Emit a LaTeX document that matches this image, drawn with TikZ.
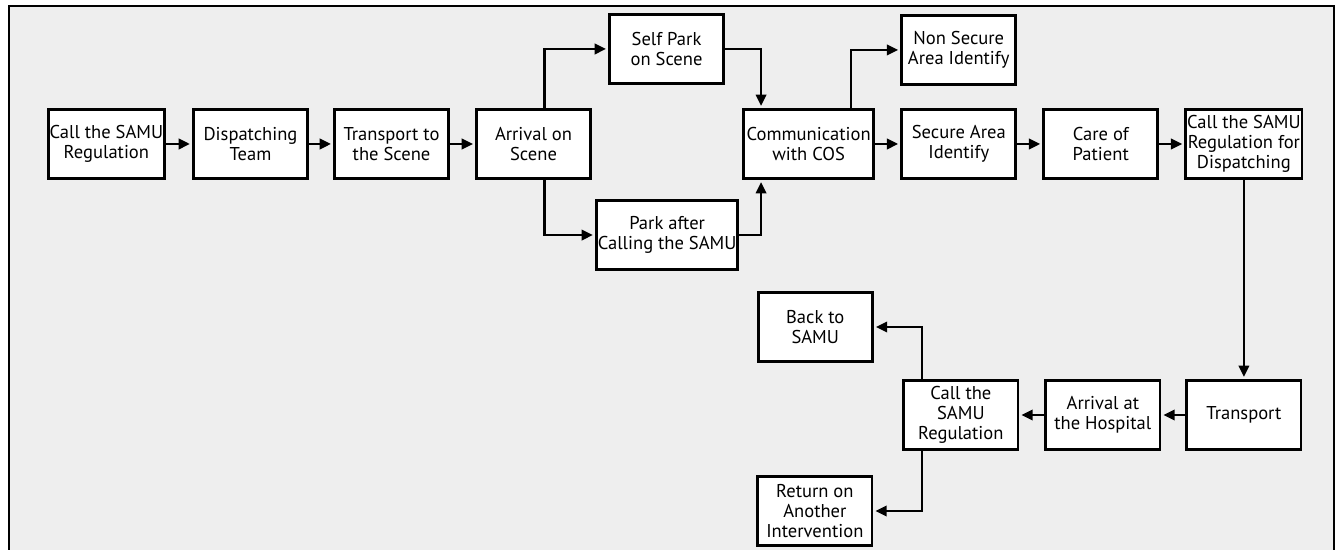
\documentclass[tikz,border=0pt]{standalone}
\usepackage{fontspec}
\setmainfont{PT Sans}
\usepackage{tikz}
\usetikzlibrary{positioning,arrows.meta}
\definecolor{panelgray}{RGB}{238,238,238}

\begin{document}
\begin{tikzpicture}[
    stepbox/.style={rectangle, draw=black, fill=white, line width=2pt,
      minimum width=2.855cm, minimum height=1.73cm, align=center,
      inner sep=1pt, font=\fontsize{13.2}{14.4}\selectfont},
    flow/.style={line width=1.6pt, -{Triangle[length=0.28cm,width=0.26cm]},
      shorten >=1.5pt},
    node distance=0.625cm]

  % frame
  \useasboundingbox (0,0) rectangle (33.5,-13.75);
  \fill[panelgray] (0.225,-0.15) rectangle (33.35,-13.75);
  \draw[line width=1.5pt] (0.225,-13.75) -- (0.225,-0.15) -- (33.35,-0.15) -- (33.35,-13.75);

  % Define nodes
  \node[stepbox] (call) at (2.66,-3.6) {Call the SAMU\\Regulation};
  \node[stepbox, right=0.65cm of call] (disp) {Dispatching\\Team};
  \node[stepbox, right=0.6cm of disp] (tscene) {Transport to\\the Scene};
  \node[stepbox, right=of tscene] (arrival) {Arrival on\\Scene};

  \node[stepbox, above=0.575cm of arrival, xshift=3.325cm] (selfpark) {Self Park\\on Scene};
  \node[stepbox, below=0.475cm of arrival, xshift=3.34cm, minimum width=3.51cm] (parkafter) {Park after\\Calling the SAMU};

  \node[stepbox, right=3.75cm of arrival, minimum width=3.26cm] (comm) {Communication\\with COS};
  \node[stepbox, right=of comm] (secure) {Secure Area\\Identify};
  \node[stepbox, above=0.55cm of secure] (nonsecure) {Non Secure\\Area Identify};
  \node[stepbox, right=of secure] (care) {Care of\\Patient};
  \node[stepbox, right=of care] (calldisp) {Call the SAMU\\Regulation for\\Dispatching};

  \node[stepbox, below=4.975cm of calldisp] (transport) {Transport};
  \node[stepbox, left=0.6cm of transport] (hospital) {Arrival at\\the Hospital};
  \node[stepbox, left=of hospital] (callreg) {Call the\\SAMU\\Regulation};
  \node[stepbox, above=0.4cm of callreg, xshift=-3.64cm] (back) {Back to\\SAMU};
  \node[stepbox, below=0.6cm of callreg, xshift=-3.65cm] (return) {Return on\\Another\\Intervention};

  % connectors
  \draw[flow] (call) -- (disp);
  \draw[flow] (disp) -- (tscene);
  \draw[flow] (tscene) -- (arrival);
  \draw[flow] ([xshift=0.275cm]arrival.north) |- (selfpark);
  \draw[flow] ([xshift=0.275cm]arrival.south) |- (parkafter);
  \draw[flow] (selfpark) -| ([xshift=-1.19cm]comm.north);
  \draw[flow] (parkafter) -| ([xshift=-1.19cm]comm.south);
  \draw[flow] ([xshift=1.06cm]comm.north) |- (nonsecure);
  \draw[flow] (comm) -- (secure);
  \draw[flow] (secure) -- (care);
  \draw[flow] (care) -- (calldisp);
  \draw[flow] (calldisp) -- (transport);
  \draw[flow] (transport) -- (hospital);
  \draw[flow] (hospital) -- (callreg);
  \draw[flow] ([xshift=-0.975cm]callreg.north) |- (back);
  \draw[flow] ([xshift=-0.975cm]callreg.south) |- (return);

\end{tikzpicture}
\end{document}
